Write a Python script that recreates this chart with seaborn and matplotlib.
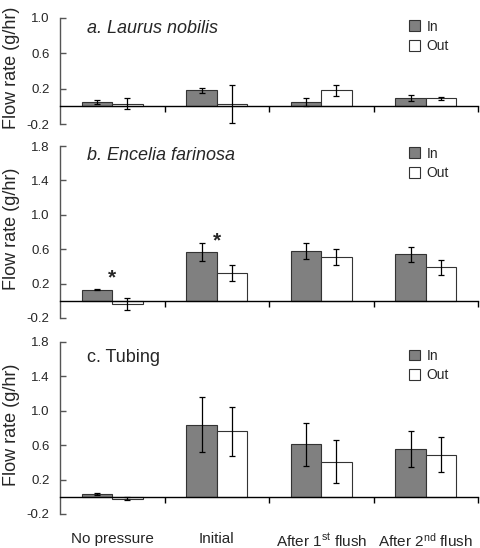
import numpy as np
import pandas as pd
import seaborn as sns
import matplotlib
matplotlib.use("Agg")
import matplotlib.pyplot as plt
from matplotlib.patches import Patch

# ---- data ----
categories = ["No pressure", "Initial", "After 1st flush", "After 2nd flush"]
tick_labels = ["No pressure", "Initial", "After 1$^{\\mathrm{st}}$ flush", "After 2$^{\\mathrm{nd}}$ flush"]
sides = ["In", "Out"]

laurus_in = [0.05, 0.18, 0.05, 0.09]
laurus_in_err = [0.02, 0.025, 0.05, 0.035]
laurus_out = [0.03, 0.03, 0.18, 0.09]
laurus_out_err = [0.06, 0.215, 0.06, 0.02]

encelia_in = [0.13, 0.57, 0.58, 0.54]
encelia_in_err = [0.01, 0.105, 0.09, 0.09]
encelia_out = [-0.035, 0.32, 0.51, 0.39]
encelia_out_err = [0.07, 0.095, 0.088, 0.087]

tubing_in = [0.03, 0.84, 0.61, 0.56]
tubing_in_err = [0.01, 0.315, 0.25, 0.21]
tubing_out = [-0.02, 0.76, 0.41, 0.49]
tubing_out_err = [0.02, 0.28, 0.25, 0.20]

titles = ["a. Laurus nobilis", "b. Encelia farinosa", "c. Tubing"]
title_styles = ["italic", "italic", "normal"]
yticks_a = [-0.2, 0.2, 0.6, 1.0]
yticks_bc = [-0.2, 0.2, 0.6, 1.0, 1.4, 1.8]

star_categories = ["No pressure", "Initial"]   # panel b
star_y = [0.29, 0.73]

# ---- style ----
sns.set_style("white")
plt.rcParams["font.family"] = ["Liberation Sans", "DejaVu Sans"]
plt.rcParams["mathtext.fontset"] = "custom"
plt.rcParams["mathtext.rm"] = "Liberation Sans"
plt.rcParams["mathtext.it"] = "Liberation Sans:italic"

W, H = 480, 548
fig = plt.figure(figsize=(W / 100, H / 100), dpi=100)

# axes rectangles in pixels (left, top, right, bottom)
rects = [(60, 18, 478, 124), (60, 146, 478, 318), (60, 342, 478, 514)]
ylims = [(-0.2, 1.0), (-0.2, 1.8), (-0.2, 1.8)]
yticks = [yticks_a, yticks_bc, yticks_bc]
panels = [
    (laurus_in, laurus_in_err, laurus_out, laurus_out_err),
    (encelia_in, encelia_in_err, encelia_out, encelia_out_err),
    (tubing_in, tubing_in_err, tubing_out, tubing_out_err),
]
title_y = [28.5, 155, 357]
legend_mid_y = [36.3, 163.4, 365.5]

palette = {"In": "#808080", "Out": "#ffffff"}

for i, (rect, (vin, ein, vout, eout)) in enumerate(zip(rects, panels)):
    l, t, r, b = rect
    ax = fig.add_axes([l / W, 1 - b / H, (r - l) / W, (b - t) / H])
    df = pd.DataFrame({
        "cat": categories * 2,
        "side": ["In"] * 4 + ["Out"] * 4,
        "val": list(vin) + list(vout),
        "err": list(ein) + list(eout),
    })
    sns.barplot(data=df, x="cat", y="val", hue="side", order=categories,
                hue_order=sides, palette=palette, edgecolor="#333333",
                linewidth=0.8, width=0.58, gap=0, errorbar=None,
                legend=False, ax=ax, saturation=1)
    # error bars placed at the centres of the bars seaborn drew
    for cont, side in zip(ax.containers, sides):
        sub = df[df.side == side].set_index("cat").loc[categories]
        xs = [p.get_x() + p.get_width() / 2 for p in cont.patches]
        ax.errorbar(xs, sub["val"].values, yerr=sub["err"].values, fmt="none",
                    ecolor="black", elinewidth=0.9, capsize=2, capthick=0.9,
                    zorder=5)

    ax.set_xlim(-0.5, 3.5)
    ax.set_ylim(*ylims[i])
    ax.set_yticks(yticks[i])
    ax.set_yticklabels([f"{v:.1f}" for v in yticks[i]])
    ax.set_xlabel("")
    ax.set_ylabel("")

    for s in ["top", "right"]:
        ax.spines[s].set_visible(False)
    ax.spines["left"].set_color("#555555")
    ax.spines["left"].set_linewidth(1.0)
    ax.spines["bottom"].set_position(("data", 0))
    ax.spines["bottom"].set_color("black")
    ax.spines["bottom"].set_linewidth(1.0)
    ax.spines["bottom"].set_zorder(4)

    ax.tick_params(axis="y", which="major", direction="in", length=4,
                   width=1, color="#555555", labelsize=9.5, pad=7.5,
                   left=True)
    ax.set_xticks(range(4))
    ax.set_xticks([0.5, 1.5, 2.5, 3.5], minor=True)
    ax.tick_params(axis="x", which="minor", direction="out", length=4,
                   width=1, color="black", bottom=True)
    if i == 2:
        ax.set_xticklabels(tick_labels)
        ax.tick_params(axis="x", which="major", length=0, pad=25,
                       labelsize=11)
    else:
        ax.tick_params(axis="x", which="major", length=0,
                       labelbottom=False)

    # title
    fig.text(87 / W, 1 - title_y[i] / H, titles[i], fontsize=13,
             style=title_styles[i], ha="left", va="center")
    # y label
    fig.text(12 / W, 1 - ((t + b) / 2 - 3) / H, "Flow rate (g/hr)",
             fontsize=13, rotation=90, ha="center", va="center")
    # legend
    handles = [Patch(facecolor=palette[s], edgecolor="#333333", linewidth=0.8,
                     label=s) for s in sides]
    ax.legend(handles=handles, loc="center left",
              bbox_to_anchor=(409 / W, 1 - legend_mid_y[i] / H),
              bbox_transform=fig.transFigure, frameon=False, fontsize=10,
              handlelength=0.8, handleheight=0.8, handletextpad=0.45,
              labelspacing=0.4, borderpad=0, borderaxespad=0)

    if i == 1:
        for c, sy in zip(star_categories, star_y):
            xi = categories.index(c)
            ax.annotate("*", (xi, sy), xytext=(0, -0.38 * 15),
                        textcoords="offset points", ha="center",
                        va="baseline", fontsize=15, fontweight="bold")

fig.savefig("out.png", dpi=100)
